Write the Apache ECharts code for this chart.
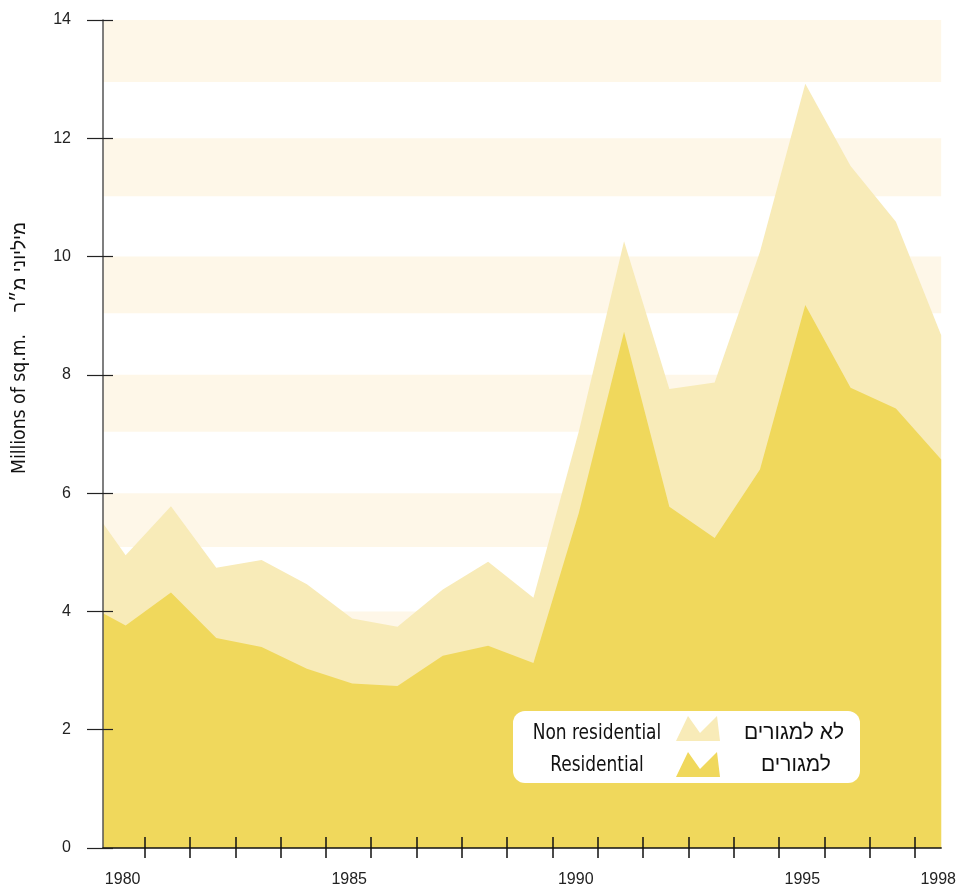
<!DOCTYPE html>
<html>
<head>
<meta charset="utf-8">
<script src="https://cdn.jsdelivr.net/npm/echarts@6/dist/echarts.min.js"></script>
<style>
html,body{margin:0;padding:0;background:#fff;}
#c{width:959px;height:888px;}
</style>
</head>
<body>
<div id="c"></div>
<script>
// ---- data ----
var years = [1979.5, 1980, 1981, 1982, 1983, 1984, 1985, 1986, 1987, 1988, 1989, 1990, 1991, 1992, 1993, 1994, 1995, 1996, 1997, 1998];
// total (residential + non residential), top edge of the light area
var totalArea = [5.49, 4.95, 5.78, 4.74, 4.87, 4.46, 3.88, 3.74, 4.37, 4.84, 4.23, 7.04, 10.26, 7.76, 7.87, 10.08, 12.92, 11.53, 10.59, 8.67];
// residential, top edge of the darker area
var residential = [3.97, 3.76, 4.32, 3.55, 3.40, 3.03, 2.78, 2.74, 3.25, 3.42, 3.13, 5.66, 8.73, 5.77, 5.24, 6.40, 9.18, 7.78, 7.43, 6.57];
var xLabelYears = [1980, 1985, 1990, 1995, 1998];
var xTickYears = [1980.42, 1981.42, 1982.42, 1983.42, 1984.42, 1985.42, 1986.42, 1987.42, 1988.42, 1989.42, 1990.42, 1991.42, 1992.42, 1993.42, 1994.42, 1995.42, 1996.42, 1997.42];
var bandRanges = [[12.95, 14], [11.02, 12], [9.04, 10], [7.04, 8], [5.09, 6], [3.05, 4], [1.05, 2]];
var xMin = 1979.5, xMax = 1998.0;
var yMin = 0, yMax = 14, yStep = 2;

var COND = "'Liberation Sans Narrow','DejaVu Sans Condensed','Roboto Condensed','Liberation Sans',sans-serif";
var HEB = "'Liberation Sans','DejaVu Sans',sans-serif";

var chart = echarts.init(document.getElementById('c'), null, {renderer: 'canvas'});

function pairs(vals) { return vals.map(function (v, i) { return [years[i], v]; }); }

var option = {
  backgroundColor: '#ffffff',
  animation: false,
  grid: {left: 103, right: 16, top: 20, bottom: 40, containLabel: false},
  xAxis: [{
    type: 'value', min: xMin, max: xMax, position: 'bottom', z: 10,
    axisLine: {show: true, onZero: false, lineStyle: {color: '#111', width: 1.5}},
    axisTick: {show: true, customValues: xTickYears, length: 10, lineStyle: {color: '#111', width: 1.5}},
    axisLabel: {show: true, customValues: xLabelYears, margin: 24, color: '#222', fontSize: 16,
      fontFamily: "'Liberation Sans',Arial,sans-serif", padding: [0, 6, 0, 0],
      formatter: function (v) { return String(Math.round(v)); }},
    splitLine: {show: false}
  }, {
    type: 'value', min: xMin, max: xMax, position: 'bottom', z: 10,
    axisLine: {show: false},
    axisTick: {show: true, inside: true, customValues: xTickYears, length: 11, lineStyle: {color: '#111', width: 1.5}},
    axisLabel: {show: false},
    splitLine: {show: false}
  }],
  yAxis: [{
    type: 'value', min: yMin, max: yMax, interval: yStep, position: 'left', z: 10,
    axisLine: {show: true, lineStyle: {color: '#555', width: 1.5}},
    axisTick: {show: true, length: 16, lineStyle: {color: '#222', width: 1.2}},
    axisLabel: {show: true, margin: 32, color: '#222', fontSize: 16, fontFamily: "'Liberation Sans',Arial,sans-serif"},
    splitLine: {show: false}
  }, {
    type: 'value', min: yMin, max: yMax, interval: yStep, position: 'left', z: 10,
    axisLine: {show: false},
    axisTick: {show: true, inside: true, length: 10, lineStyle: {color: '#222', width: 1.2}},
    axisLabel: {show: false},
    splitLine: {show: false}
  }],
  series: [{
    type: 'custom', name: 'bands', z: 1, silent: true,
    xAxisIndex: 0, yAxisIndex: 0,
    data: bandRanges,
    renderItem: function (params, api) {
      var p1 = api.coord([xMin, api.value(1)]);
      var p2 = api.coord([xMax, api.value(0)]);
      return {type: 'rect', shape: {x: p1[0], y: p1[1], width: p2[0] - p1[0], height: p2[1] - p1[1]},
        style: {fill: '#fef7e8'}};
    }
  }, {
    type: 'line', name: 'Non residential', z: 2,
    xAxisIndex: 0, yAxisIndex: 0,
    data: pairs(totalArea), symbol: 'none', smooth: false,
    lineStyle: {width: 0}, areaStyle: {color: '#f8ebb8', opacity: 1, origin: 'start'}
  }, {
    type: 'line', name: 'Residential', z: 3,
    xAxisIndex: 0, yAxisIndex: 0,
    data: pairs(residential), symbol: 'none', smooth: false,
    lineStyle: {width: 0}, areaStyle: {color: '#f0d85c', opacity: 1, origin: 'start'}
  }],
  graphic: [
    {type: 'text', x: 20, y: 404, rotation: Math.PI / 2, scaleX: 0.96, z: 100,
      style: {text: 'Millions of sq.m.', font: '20px ' + COND, fill: '#111', align: 'center', verticalAlign: 'middle'}},
    {type: 'text', x: 20, y: 267, rotation: Math.PI / 2, z: 100,
      style: {text: 'מיליוני מ״ר', font: '19px ' + HEB, fill: '#111', align: 'center', verticalAlign: 'middle'}},
    {type: 'rect', z: 100, shape: {x: 513, y: 711, width: 347, height: 72, r: 12}, style: {fill: '#ffffff'}},
    {type: 'text', x: 597, y: 734, scaleX: 0.9, z: 101,
      style: {text: 'Non residential', font: '21px ' + COND, fill: '#111', align: 'center', verticalAlign: 'middle'}},
    {type: 'text', x: 597, y: 766, scaleX: 0.9, z: 101,
      style: {text: 'Residential', font: '21px ' + COND, fill: '#111', align: 'center', verticalAlign: 'middle'}},
    {type: 'polygon', z: 101, shape: {points: [[676, 741], [688, 716], [700, 733], [717, 716], [720, 741]]}, style: {fill: '#f8ebb8'}},
    {type: 'polygon', z: 101, shape: {points: [[676, 777], [688, 752], [700, 769], [717, 752], [720, 777]]}, style: {fill: '#f0d85c'}},
    {type: 'text', x: 794, y: 733, z: 101,
      style: {text: 'לא למגורים', font: '21px ' + HEB, fill: '#111', align: 'center', verticalAlign: 'middle'}},
    {type: 'text', x: 796, y: 765, z: 101,
      style: {text: 'למגורים', font: '21px ' + HEB, fill: '#111', align: 'center', verticalAlign: 'middle'}}
  ]
};
chart.setOption(option);
</script>
</body>
</html>
